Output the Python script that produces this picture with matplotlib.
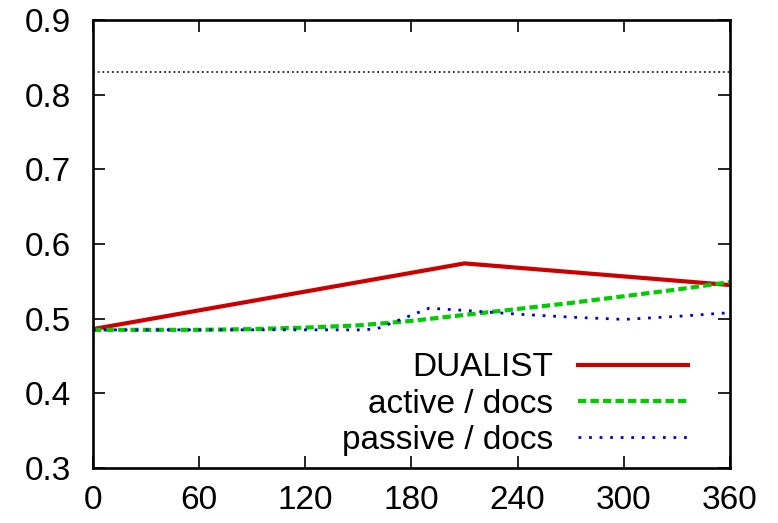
import matplotlib
matplotlib.use("Agg")
import matplotlib.pyplot as plt

plt.rcParams['font.family'] = ['Liberation Sans', 'DejaVu Sans']

# Time (seconds) and accuracy for each method
t_dualist = [0, 210, 360]
acc_dualist = [0.486, 0.574, 0.545]

t_active = [0, 30, 60, 90, 120, 150, 180, 210, 240, 270, 300, 330, 360]
acc_active = [0.485, 0.485, 0.485, 0.486, 0.488, 0.491, 0.497, 0.505, 0.513, 0.521, 0.530, 0.539, 0.549]

t_passive = [0, 30, 60, 90, 120, 150, 160, 175, 190, 210, 240, 270, 300, 330, 360]
acc_passive = [0.485, 0.485, 0.485, 0.485, 0.485, 0.485, 0.486, 0.500, 0.514, 0.511, 0.506, 0.502, 0.499, 0.503, 0.508]

reference_level = 0.83

xticks = [0, 60, 120, 180, 240, 300, 360]
yticks = [0.3, 0.4, 0.5, 0.6, 0.7, 0.8, 0.9]

fig = plt.figure(figsize=(7.78, 5.23), dpi=100)
ax = fig.add_axes([0.1195, 0.1052, 0.8188, 0.8566])

ax.axhline(reference_level, color='black', lw=1.1, ls=(0, (1.2, 1.9)))
ax.plot(t_dualist, acc_dualist, color='#cc0000', lw=3.0, label='DUALIST')
ax.plot(t_active, acc_active, color='#00cc00', lw=3.0, ls=(0, (2.0, 1.0)), label='active / docs')
ax.plot(t_passive, acc_passive, color='#0000cc', lw=2.0, ls=(0, (1.0, 2.8)), label='passive / docs')

ax.set_xlim(0, 360)
ax.set_ylim(0.3, 0.9)
ax.set_xticks(xticks)
ax.set_yticks(yticks)
ax.set_xticklabels([str(v) for v in xticks])
ax.set_yticklabels([f"{v:.1f}" for v in yticks])

ax.tick_params(direction='in', length=8.6, width=1.2, top=True, right=True,
               labelsize=24)
ax.tick_params(axis='x', pad=12)
ax.tick_params(axis='y', pad=16)
for s in ax.spines.values():
    s.set_linewidth(1.9)

leg = ax.legend(loc='lower right', bbox_to_anchor=(0.934, 0.027), frameon=False,
                markerfirst=False, fontsize=24, handlelength=3.3,
                labelspacing=0.16, handletextpad=0.75, borderaxespad=0.0,
                borderpad=0.0)
for t in leg.get_texts():
    t.set_ha('right')

fig.savefig('out.png', dpi=100)
